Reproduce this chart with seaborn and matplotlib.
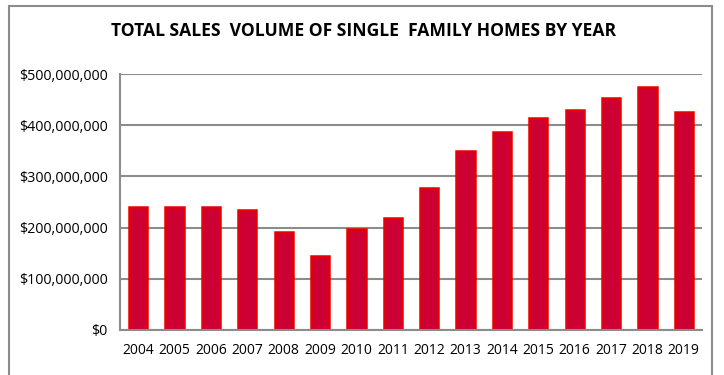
import numpy as np
import pandas as pd
import seaborn as sns
import matplotlib.pyplot as plt
from matplotlib.patches import Rectangle
from matplotlib.ticker import FuncFormatter

years = ['2004', '2005', '2006', '2007', '2008', '2009', '2010', '2011',
         '2012', '2013', '2014', '2015', '2016', '2017', '2018', '2019']
volume = [241e6, 241e6, 241e6, 234e6, 191e6, 145e6, 198e6, 219e6,
          277e6, 350e6, 387e6, 415e6, 430e6, 454e6, 475e6, 426e6]
df = pd.DataFrame({'year': years, 'volume': volume})

sns.set_style('white')
plt.rcParams['font.family'] = ['Open Sans', 'DejaVu Sans']
plt.rcParams['text.color'] = 'black'
plt.rcParams['xtick.color'] = 'black'
plt.rcParams['ytick.color'] = 'black'

fig = plt.figure(figsize=(7.24, 3.75), dpi=100)
ax = fig.add_axes([120 / 724, 45 / 375, 582 / 724, 256 / 375])

sns.barplot(data=df, x='year', y='volume', color='#cc0033', width=0.5,
            edgecolor='#e60000', linewidth=1.8, saturation=1, ax=ax)

ax.set_ylim(0, 500e6)
ax.set_xlim(-0.5, len(years) - 0.5)
ax.set_yticks(np.arange(0, 500e6 + 1, 100e6))
ax.yaxis.set_major_formatter(FuncFormatter(lambda v, p: '${:,.0f}'.format(v)))
ax.grid(axis='y', color='#8c8c8c', linewidth=1.5)
ax.set_axisbelow(True)

for s in ['top', 'right']:
    ax.spines[s].set_visible(False)
for s in ['left', 'bottom']:
    ax.spines[s].set_color('#8c8c8c')
    ax.spines[s].set_linewidth(1.5)

ax.set_xticks(np.arange(-0.5, len(years), 1), minor=True)
ax.tick_params(axis='x', which='major', length=0, pad=9, labelsize=10)
ax.tick_params(axis='x', which='minor', length=5, width=1.2, color='#8c8c8c', direction='out')
ax.tick_params(axis='y', length=5, width=1.2, color='#8c8c8c', direction='out', labelsize=10.3, pad=4)
ax.set_xlabel('')
ax.set_ylabel('')

fig.text(364 / 724, 1 - 31 / 375, 'TOTAL SALES  VOLUME OF SINGLE  FAMILY HOMES BY YEAR',
         ha='center', va='center', fontsize=12.6, fontweight='bold')

fig.patches.append(Rectangle((9 / 724, -0.05), 703 / 724, 1.05 - 6 / 375,
                             transform=fig.transFigure, fill=False,
                             edgecolor='#8c8c8c', linewidth=1.5, clip_on=False))

fig.savefig('out.png', dpi=100)
